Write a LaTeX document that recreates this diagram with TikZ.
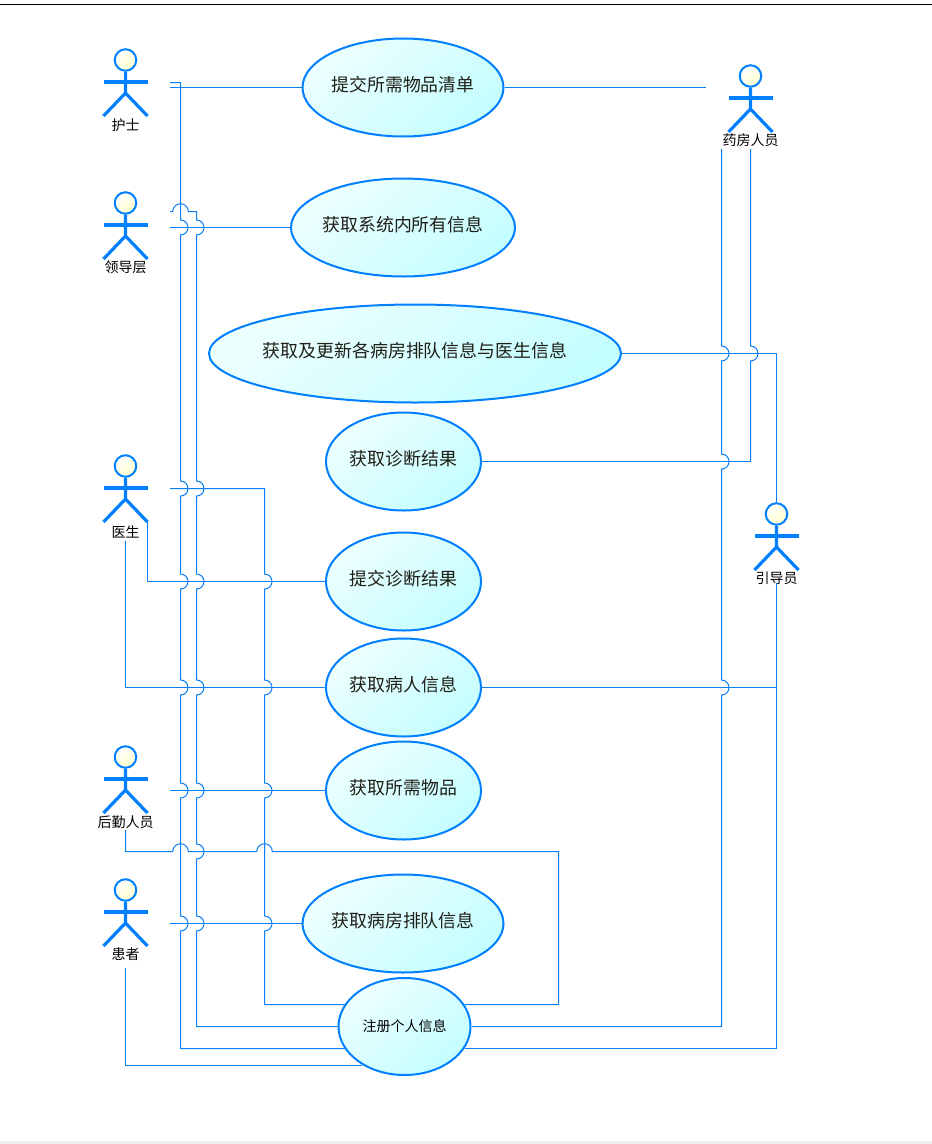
\documentclass[tikz,border=0pt]{standalone}
\usepackage{fontspec}
\setmainfont{Noto Sans CJK SC}
\usetikzlibrary{shapes.geometric}
\definecolor{umlblue}{HTML}{0080FF}
\definecolor{wireblue}{HTML}{0A80F8}
\definecolor{ucfill}{HTML}{C4FEFF}
\definecolor{headfill}{HTML}{FFFFCC}
\definecolor{uctext}{HTML}{201F18}
\newcommand\uctxt[1]{\raisebox{-4.4pt}[0pt][0pt]{#1}}
\tikzset{
  usecase/.style={ellipse,draw=umlblue,line width=2pt,inner sep=-30pt,
    top color=white!70!ucfill,bottom color=ucfill,shading angle=40,
    font=\fontsize{17.9}{20}\selectfont,text=uctext},
  actorhead/.style={circle,draw=umlblue,line width=2pt,inner sep=0pt,minimum size=21.5pt,
    top color=white,bottom color=headfill,shading angle=30},
  actorline/.style={draw=umlblue,line width=3.2pt},
  actorname/.style={font=\fontsize{14}{15}\selectfont,text=black,inner sep=0pt},
  wire/.style={draw=wireblue,line width=1pt}
}
\def\VJ#1#2{-- (#1,{-#2+7.5}) arc[start angle=90,end angle=-90,radius=7.5]}
\def\HJ#1#2{-- ({#1-7.8},-#2) arc[start angle=180,end angle=0,radius=7.8]}
\newcommand\umlactor[5]{%
  \begin{scope}[shift={(#2,-#3)}]
    \node[actorhead] (#1) at (0,0) {};
    \draw[actorline] (#1.south) -- (0,-33) coordinate (#1-hip) -- (-22,-56);
    \draw[actorline] (#1-hip) -- (22,-56);
    \draw[actorline] (-22,-22) -- (22,-22);
    \node[actorname] (#1-name) at (0,-#5) {#4};
  \end{scope}}
\begin{document}
\begin{tikzpicture}[x=1pt,y=1pt]
\useasboundingbox (0,0) rectangle (932,-1144);
\fill[white] (0,0) rectangle (932,-1144);
\fill[black!6] (0,-1141) rectangle (932,-1144);
\draw[black,line width=1pt] (0,-4.5) -- (932,-4.5);

% use cases
\node[usecase,minimum width=201pt,minimum height=98pt] (uc1) at (403,-87.5) {\uctxt{提交所需物品清单}};
\node[usecase,minimum width=224pt,minimum height=98pt] (uc2) at (403,-227.5) {\uctxt{获取系统内所有信息}};
\node[usecase,minimum width=412pt,minimum height=98pt] (uc3) at (415,-353.5) {\uctxt{获取及更新各病房排队信息与医生信息}};
\node[usecase,minimum width=155pt,minimum height=98pt] (uc4) at (403.5,-461.5) {\uctxt{获取诊断结果}};
\node[usecase,minimum width=155pt,minimum height=98pt] (uc5) at (403.5,-581.5) {\uctxt{提交诊断结果}};
\node[usecase,minimum width=155pt,minimum height=98pt] (uc6) at (403.5,-687.5) {\uctxt{获取病人信息}};
\node[usecase,minimum width=155pt,minimum height=98pt] (uc7) at (403.5,-790.5) {\uctxt{获取所需物品}};
\node[usecase,minimum width=201pt,minimum height=98pt] (uc8) at (403,-923.5) {\uctxt{获取病房排队信息}};
\node[usecase,minimum width=132pt,minimum height=97pt,font=\fontsize{14}{15}\selectfont,text=black] (reg) at (404.5,-1026.5) {注册个人信息};

% actors
\umlactor{nurse}{125.5}{60}{护士}{65}
\umlactor{leader}{125.5}{203}{领导层}{64}
\umlactor{doctor}{125.5}{466}{医生}{65.5}
\umlactor{logistic}{125.5}{757}{后勤人员}{65}
\umlactor{patient}{125.5}{890}{患者}{64}
\umlactor{pharm}{750.5}{76}{药房人员}{64}
\umlactor{guide}{776.5}{514}{引导员}{64.5}

% connector ends
\coordinate (nurseA) at (170,-82.5);
\coordinate (nurseB) at (170,-87.5);
\coordinate (leaderA) at (170,-211.5);
\coordinate (leaderB) at (170,-227.5);
\coordinate (doctorA) at (170,-488.5);
\coordinate (doctorB) at (147.5,-522);
\coordinate (doctorC) at (125.5,-541);
\coordinate (logisticA) at (170,-790.5);
\coordinate (logisticB) at (125.5,-830);
\coordinate (patientA) at (170,-923.5);
\coordinate (patientB) at (125.5,-968);
\coordinate (pharmL) at (706,-87.5);
\coordinate (pharmA) at (721.5,-149);
\coordinate (pharmB) at (750.5,-149);
\coordinate (guideA) at (776.5,-583);
\coordinate (regNW) at (344.5,-1004.5);
\coordinate (regNE) at (464.5,-1004.5);
\coordinate (regE) at (472,-1026.5);
\coordinate (regSW) at (344.5,-1048.5);
\coordinate (regSE) at (464.5,-1048.5);
\coordinate (regS) at (362,-1065.5);

% left side
\draw[wire] (nurseB) -- (uc1.west);
\draw[wire] (uc1.east) -- (pharmL);
\draw[wire] (leaderB) -- (uc2.west);
\draw[wire] (doctorA) -- (264.5,-488.5) \VJ{264.5}{581.5} \VJ{264.5}{687.5} \VJ{264.5}{790.5} \VJ{264.5}{923.5} -- (264.5,-1004.5) -- (regNW);
\draw[wire] (doctorB) -- (147.5,-581.5) -- (uc5.west);
\draw[wire] (doctorC) -- (125.5,-687.5) -- (uc6.west);
\draw[wire] (logisticA) -- (uc7.west);
\draw[wire] (patientA) -- (uc8.west);
\draw[wire] (patientB) -- (125.5,-1065.5) -- (regS);
\draw[wire] (logisticB) -- (125.5,-851.5) \HJ{180.5}{851.5} \HJ{264.5}{851.5} -- (558.5,-851.5) -- (558.5,-1004.5) -- (regNE);
\draw[wire] (nurseA) -- (180.5,-82.5)
  \VJ{180.5}{227.5} \VJ{180.5}{488.5} \VJ{180.5}{581.5} \VJ{180.5}{687.5} \VJ{180.5}{790.5} \VJ{180.5}{923.5}
  -- (180.5,-1048.5) -- (regSW);
\draw[wire] (leaderA) \HJ{180.5}{211.5} -- (196.5,-211.5)
  \VJ{196.5}{227.5} \VJ{196.5}{488.5} \VJ{196.5}{581.5} \VJ{196.5}{687.5} \VJ{196.5}{790.5} \VJ{196.5}{851.5} \VJ{196.5}{923.5}
  -- (196.5,-1026.5) -- (reg.west);

% right side
\draw[wire] (uc3.east) -- (776.5,-353.5) -- (guide.north);
\draw[wire] (uc4.east) -- (750.5,-461.5);
\draw[wire] (uc6.east) -- (776.5,-687.5);
\draw[wire] (pharmB) \VJ{750.5}{353.5} -- (750.5,-461.5);
\draw[wire] (pharmA) \VJ{721.5}{353.5} \VJ{721.5}{461.5} \VJ{721.5}{687.5} -- (721.5,-1026.5) -- (regE);
\draw[wire] (guideA) -- (776.5,-1048.5) -- (regSE);
\end{tikzpicture}
\end{document}
